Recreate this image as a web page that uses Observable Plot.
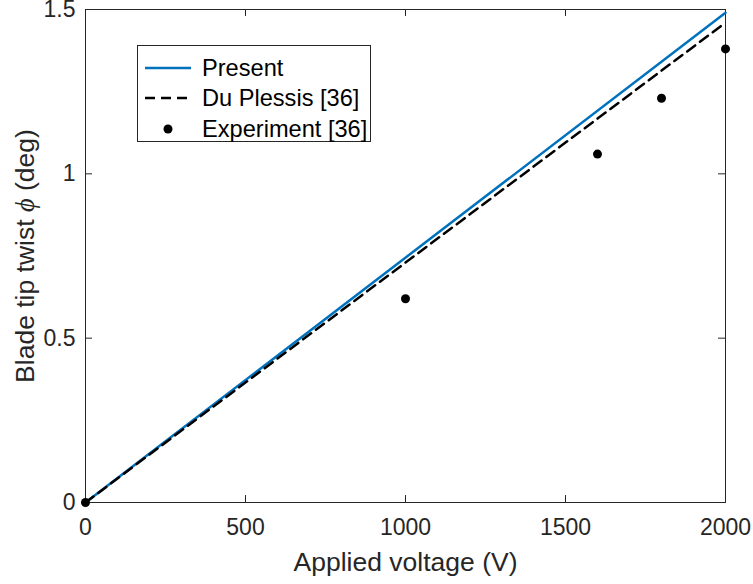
<!DOCTYPE html>
<html>
<head>
<meta charset="utf-8">
<script src="https://cdn.jsdelivr.net/npm/d3@7"></script>
<script src="https://cdn.jsdelivr.net/npm/@observablehq/plot@0.6"></script>
<style>
  body { margin: 0; background: white; }
  #wrap { position: relative; width: 753px; height: 584px; font-family: "Liberation Sans", Arial, Helvetica, sans-serif; color: #262626; }
  #legend { position: absolute; left: 137px; top: 45px; width: 232px; height: 95px; border: 1px solid #262626; background: white; }
  .row { position: absolute; left: 0; height: 30px; display: flex; align-items: center; font-size: 23.6px; color: #000; white-space: nowrap; }
  .row svg { margin-left: 7px; margin-right: 11px; }
</style>
</head>
<body>
<div id="wrap"></div>
<script>
// Data
const xTicks = [0, 500, 1000, 1500, 2000];
const yTicks = [0, 0.5, 1, 1.5];
const presentV = [0, 2000];
const presentPhi = [0, 1.49];
const plessisV = [0, 2000];
const plessisPhi = [0, 1.46];
const expV = [0, 1000, 1600, 1800, 2000];
const expPhi = [0, 0.62, 1.06, 1.23, 1.38];
const seriesNames = ["Present", "Du Plessis [36]", "Experiment [36]"];
const xLabel = "Applied voltage (V)";
const yLabel = "Blade tip twist ϕ (deg)";

const present = presentV.map((v, i) => ({v, phi: presentPhi[i]}));
const plessis = plessisV.map((v, i) => ({v, phi: plessisPhi[i]}));
const exp = expV.map((v, i) => ({v, phi: expPhi[i]}));

const W = 753, H = 584, mL = 85, mR = 28, mT = 9, mB = 82;
const fw = W - mL - mR, fh = H - mT - mB, tl = 7;
const axisColor = "#262626";

const chart = Plot.plot({
  width: W, height: H,
  marginLeft: mL, marginRight: mR, marginTop: mT, marginBottom: mB,
  style: {fontFamily: '"Liberation Sans", Arial, Helvetica, sans-serif', color: axisColor, background: "white"},
  x: {domain: [0, 2000]},
  y: {domain: [0, 1.5]},
  marks: [
    Plot.frame({stroke: axisColor, strokeWidth: 1}),
    Plot.tickX(xTicks, {x: d => d, insetTop: fh - tl, stroke: axisColor}),
    Plot.tickX(xTicks, {x: d => d, insetBottom: fh - tl, stroke: axisColor}),
    Plot.tickY(yTicks, {y: d => d, insetRight: fw - tl, stroke: axisColor}),
    Plot.tickY(yTicks, {y: d => d, insetLeft: fw - tl, stroke: axisColor}),
    Plot.axisX({ticks: xTicks, tickSize: 0, tickPadding: 16, fontSize: 23, tickFormat: d => String(d), label: null}),
    Plot.axisY({ticks: yTicks, tickSize: 0, tickPadding: 10, fontSize: 23, tickFormat: d => String(d), label: null}),
    Plot.text([xLabel], {frameAnchor: "bottom", dy: 68, text: d => d, fontSize: 26.5, lineAnchor: "bottom", textAnchor: "middle", fill: axisColor}),
    Plot.text([yLabel], {frameAnchor: "left", dx: -52, rotate: -90, text: d => d, fontSize: 26.5, lineAnchor: "bottom", textAnchor: "middle", fill: axisColor, className: "ylab"}),
    Plot.line(present, {x: "v", y: "phi", stroke: "#0072BD", strokeWidth: 2.5}),
    Plot.line(plessis, {x: "v", y: "phi", stroke: "#000", strokeWidth: 2.5, strokeDasharray: "10,6"}),
    Plot.dot(exp, {x: "v", y: "phi", r: 4.5, fill: "#000", stroke: "none"})
  ]
});

// italic phi in y label
d3.select(chart).selectAll("g.ylab text").each(function() {
  const t = d3.select(this);
  const s = t.text();
  const i = s.indexOf("ϕ");
  t.text(null);
  t.append("tspan").text(s.slice(0, i));
  t.append("tspan").attr("font-family", '"Liberation Serif", "DejaVu Serif", serif').attr("font-style", "italic").text("ϕ");
  t.append("tspan").text(s.slice(i + 1));
});

const wrap = document.getElementById("wrap");
wrap.appendChild(chart);

// legend
const legend = document.createElement("div");
legend.id = "legend";
const rowsY = [7, 37, 68];
const samples = [
  '<svg width="46" height="10"><line x1="0" x2="46" y1="5" y2="5" stroke="#0072BD" stroke-width="2.5"/></svg>',
  '<svg width="46" height="10"><line x1="0" x2="46" y1="5" y2="5" stroke="#000" stroke-width="2.5" stroke-dasharray="10,6"/></svg>',
  '<svg width="46" height="10"><circle cx="23" cy="5" r="4.5" fill="#000"/></svg>'
];
seriesNames.forEach((name, i) => {
  const r = document.createElement("div");
  r.className = "row";
  r.style.top = rowsY[i] + "px";
  r.innerHTML = samples[i] + "<span>" + name + "</span>";
  legend.appendChild(r);
});
wrap.appendChild(legend);
</script>
</body>
</html>
